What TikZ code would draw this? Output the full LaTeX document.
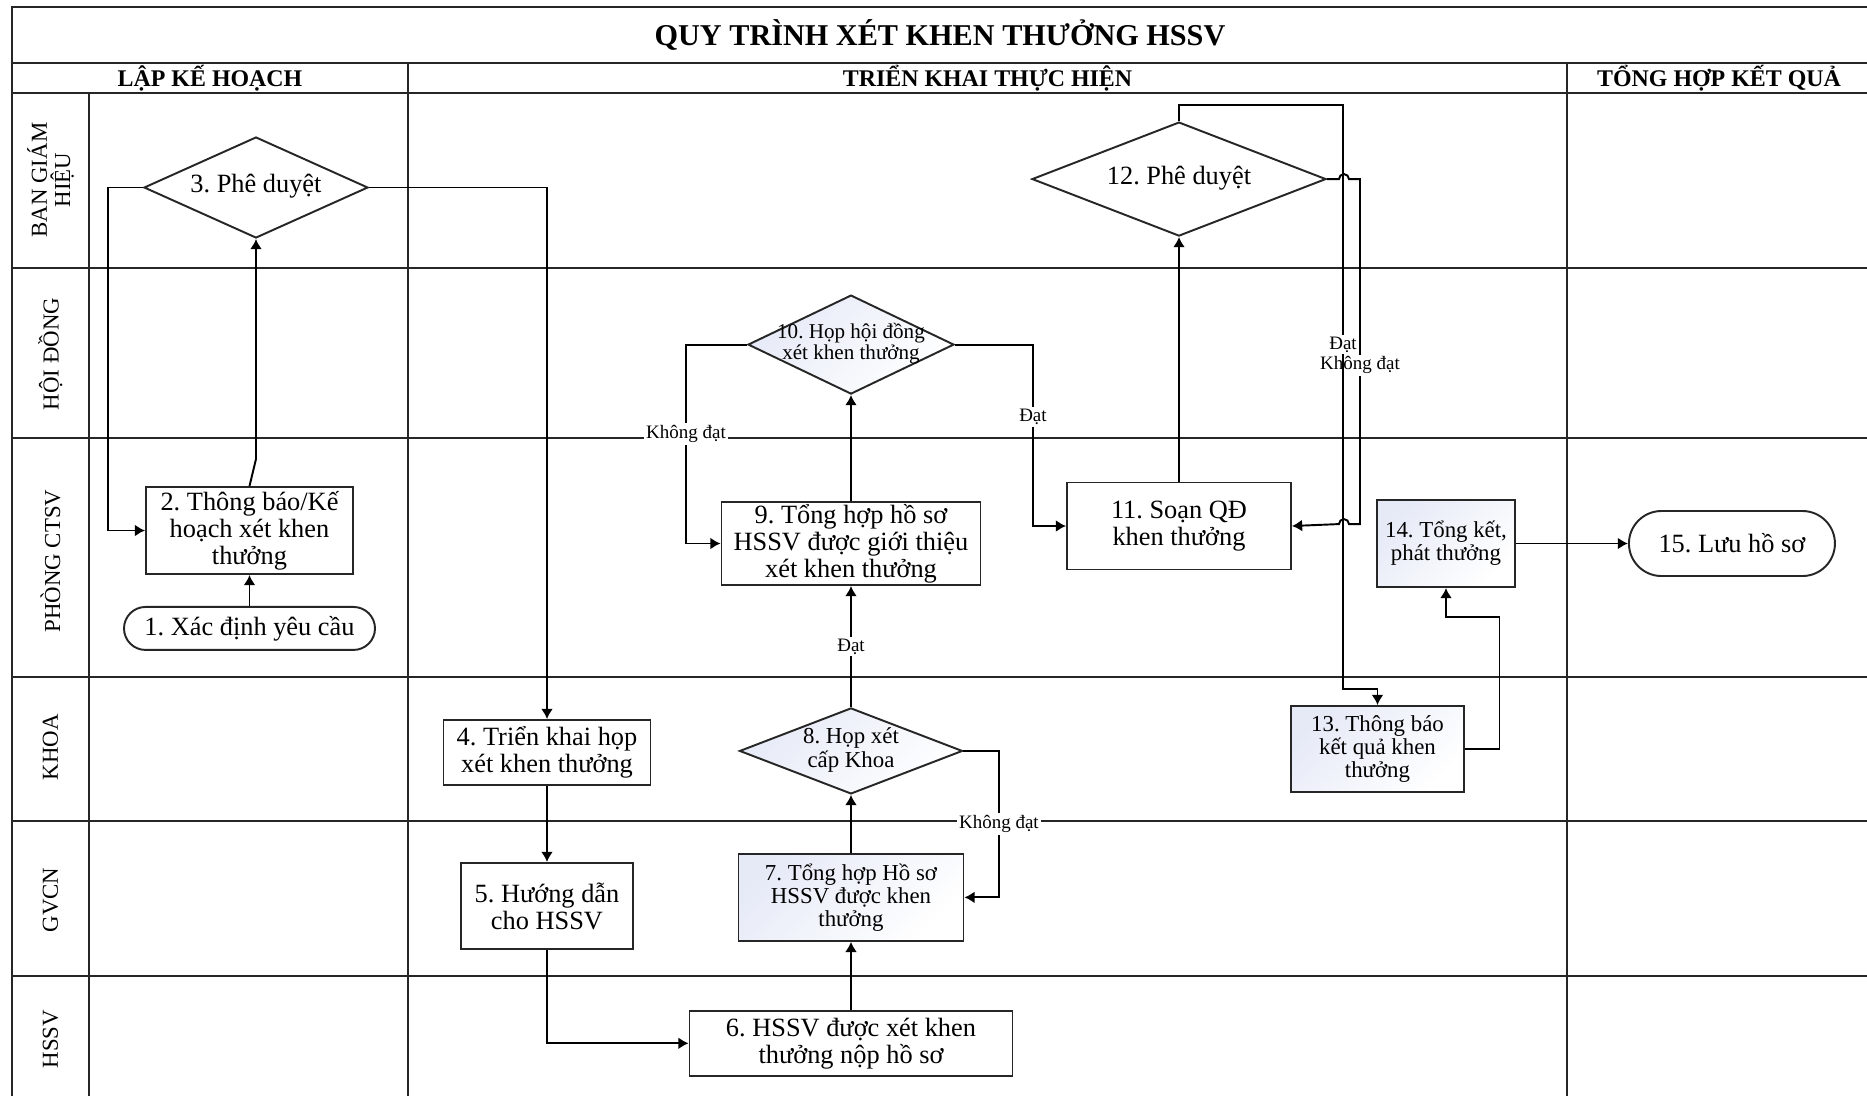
\documentclass[tikz,border=0pt]{standalone}
\usepackage{fontspec}
\setmainfont{Liberation Serif}
\usepackage{tikz}
\usetikzlibrary{arrows.meta, positioning, shapes.geometric, calc}
\definecolor{tintblue}{RGB}{230,234,247}
\newcommand{\dtxt}[1]{\makebox[0pt]{\begin{tabular}{@{}c@{}}#1\end{tabular}}}
\frenchspacing

\begin{document}
\begin{tikzpicture}[
    >={Latex[length=2.9pt,width=3.4pt]},
    every node/.style={font=\fontsize{7.5}{7.7}\selectfont},
    lane/.style={draw=black!85, line width=0.7pt},
    box/.style={rectangle, draw=black!85, line width=0.55pt, fill=white, inner sep=0pt, align=center},
    dia/.style={diamond, draw=black!85, line width=0.55pt, fill=white, inner sep=0pt},
    term/.style={box, rounded corners=#1},
    tint/.style={top color=tintblue, bottom color=white, shading angle=45},
    midtxt/.style={font=\fontsize{6.5}{6.6}\selectfont},
    smalltxt/.style={font=\fontsize{6}{5.7}\selectfont},
    lbl/.style={fill=white, inner sep=0.6pt, font=\fontsize{5.4}{5.6}\selectfont},
    head/.style={font=\bfseries\fontsize{6.8}{7}\selectfont},
    who/.style={rotate=90, align=center, font=\fontsize{6.5}{6.6}\selectfont},
    flow/.style={->, line width=0.55pt}
  ]
    \fill[white] (0,0) rectangle (18.67,-10.96);
    \useasboundingbox (0,0) rectangle (18.67,-10.96);

    % swimlane frame
    \draw[lane] (0.12,-10.96) -- (0.12,-0.07) -- (18.67,-0.07);
    \draw[lane] (0.12,-0.63) -- (18.67,-0.63) (0.12,-0.93) -- (18.67,-0.93)
                (0.12,-2.68) -- (18.67,-2.68) (0.12,-4.38) -- (18.67,-4.38)
                (0.12,-6.77) -- (18.67,-6.77) (0.12,-8.21) -- (18.67,-8.21)
                (0.12,-9.76) -- (18.67,-9.76);
    \draw[lane] (0.89,-0.93) -- (0.89,-10.96);
    \draw[lane] (4.08,-0.63) -- (4.08,-10.96);
    \draw[lane] (15.67,-0.63) -- (15.67,-10.96);

    \node[font=\bfseries\fontsize{8.6}{9}\selectfont] (title) at (9.40,-0.35) {QUY TRÌNH XÉT KHEN THƯỞNG HSSV};
    \node[head] (hplan) at (2.10,-0.78) {LẬP KẾ HOẠCH};
    \node[head] (hexec) at (9.875,-0.78) {TRIỂN KHAI THỰC HIỆN};
    \node[head] (hsum) at (17.19,-0.78) {TỔNG HỢP KẾT QUẢ};

    \node[who] (wbgh) at (0.505,-1.80) {BAN GIÁM\\HIỆU};
    \node[who] (whd) at (0.505,-3.54) {HỘI ĐỒNG};
    \node[who] (wctsv) at (0.505,-5.61) {PHÒNG CTSV};
    \node[who] (wkhoa) at (0.505,-7.47) {KHOA};
    \node[who] (wgvcn) at (0.505,-9.00) {GVCN};
    \node[who] (whssv) at (0.505,-10.39) {HSSV};

    % steps
    \node[box, minimum width=2.07cm, minimum height=0.87cm] (n2) at (2.495,-5.305) {2. Thông báo/Kế\\hoạch xét khen\\thưởng};
    \node[term=0.215cm, minimum width=2.51cm, minimum height=0.43cm, below=0.31cm of n2] (n1) {1. Xác định yêu cầu};
    \node[dia, minimum width=2.24cm, minimum height=1.01cm] (n3) at (2.56,-1.875) {\dtxt{3. Phê duyệt}};
    \node[box, minimum width=2.07cm, minimum height=0.65cm] (n4) at (5.47,-7.525) {4. Triển khai họp\\xét khen thưởng};
    \node[box, minimum width=1.72cm, minimum height=0.86cm, below=0.76cm of n4] (n5) {5. Hướng dẫn\\cho HSSV};
    \node[box, minimum width=2.59cm, minimum height=0.83cm] (n9) at (8.51,-5.435) {9. Tổng hợp hồ sơ\\HSSV được giới thiệu\\xét khen thưởng};
    \node[dia, tint, smalltxt, minimum width=2.06cm, minimum height=0.99cm, above=1.06cm of n9] (n10) {\dtxt{10. Họp hội đồng\\xét khen thưởng}};
    \node[dia, tint, midtxt, minimum width=2.23cm, minimum height=0.86cm, below=1.21cm of n9] (n8) {\dtxt{8. Họp xét\\cấp Khoa}};
    \node[box, tint, midtxt, minimum width=2.25cm, minimum height=0.87cm, below=0.58cm of n8] (n7) {7. Tổng hợp Hồ sơ\\HSSV được khen\\thưởng};
    \node[box, minimum width=3.23cm, minimum height=0.65cm, below=0.68cm of n7] (n6) {6. HSSV được xét khen\\thưởng nộp hồ sơ};
    \node[box, minimum width=2.24cm, minimum height=0.87cm] (n11) at (11.79,-5.26) {11. Soạn QĐ\\khen thưởng};
    \node[dia, minimum width=2.94cm, minimum height=1.14cm, above=2.445cm of n11] (n12) {\dtxt{12. Phê duyệt}};
    \node[box, tint, midtxt, minimum width=1.73cm, minimum height=0.86cm] (n13) at (13.775,-7.49) {13. Thông báo\\kết quả khen\\thưởng};
    \node[box, tint, midtxt, minimum width=1.38cm, minimum height=0.87cm] (n14) at (14.46,-5.435) {14. Tổng kết,\\phát thưởng};
    \node[term=0.325cm, minimum width=2.06cm, minimum height=0.65cm, right=1.12cm of n14] (n15) {15. Lưu hồ sơ};

    % flow
    \draw[flow] (n1) -- (n2);
    \draw[flow] (n2.north) -- ++(0.065,0.27) -- (n3.south);
    \draw[flow] (n3.west) -- ++(-0.35,0) |- (n2.west);
    \draw[flow] (n3.east) -| (n4.north);
    \draw[flow] (n4) -- (n5);
    \draw[flow] (n5.south) |- (n6.west);
    \draw[flow] (n6) -- (n7);
    \draw[flow] (n7) -- (n8);
    \draw[flow] (n8.east) -- ++(0.355,0) |- node[lbl, pos=0.25] {Không đạt} (n7.east);
    \draw[flow] (n8) -- node[lbl] {Đạt} (n9);
    \draw[flow] (n9) -- (n10);
    \draw[flow] (n10.west) -- ++(-0.61,0) |- node[lbl, pos=0.225] {Không đạt} (n9.west);
    \draw[flow] (n10.east) -- ++(0.78,0) |- node[lbl, pos=0.2] {Đạt} (n11.west);
    \draw[flow] (n11) -- (n12);
    \draw[flow] (n12.east) -- ++(0.12,0) arc[start angle=180, end angle=0, radius=0.05] -- ++(0.11,0)
        -- node[lbl, pos=0.54] {Không đạt} ++(0,-3.45) -- ++(-0.11,0)
        arc[start angle=0, end angle=180, radius=0.05] -- (n11.east);
    \draw[flow] (n12.north) -- ++(0,0.16) -| node[lbl, pos=0.705] {Đạt} ++(1.64,-5.84) -| (n13.north);
    \draw[flow] (n13.east) -- ++(0.345,0) |- ([yshift=-0.29cm]n14.south) -- (n14.south);
    \draw[flow] (n14) -- (n15);
  \end{tikzpicture}
\end{document}
